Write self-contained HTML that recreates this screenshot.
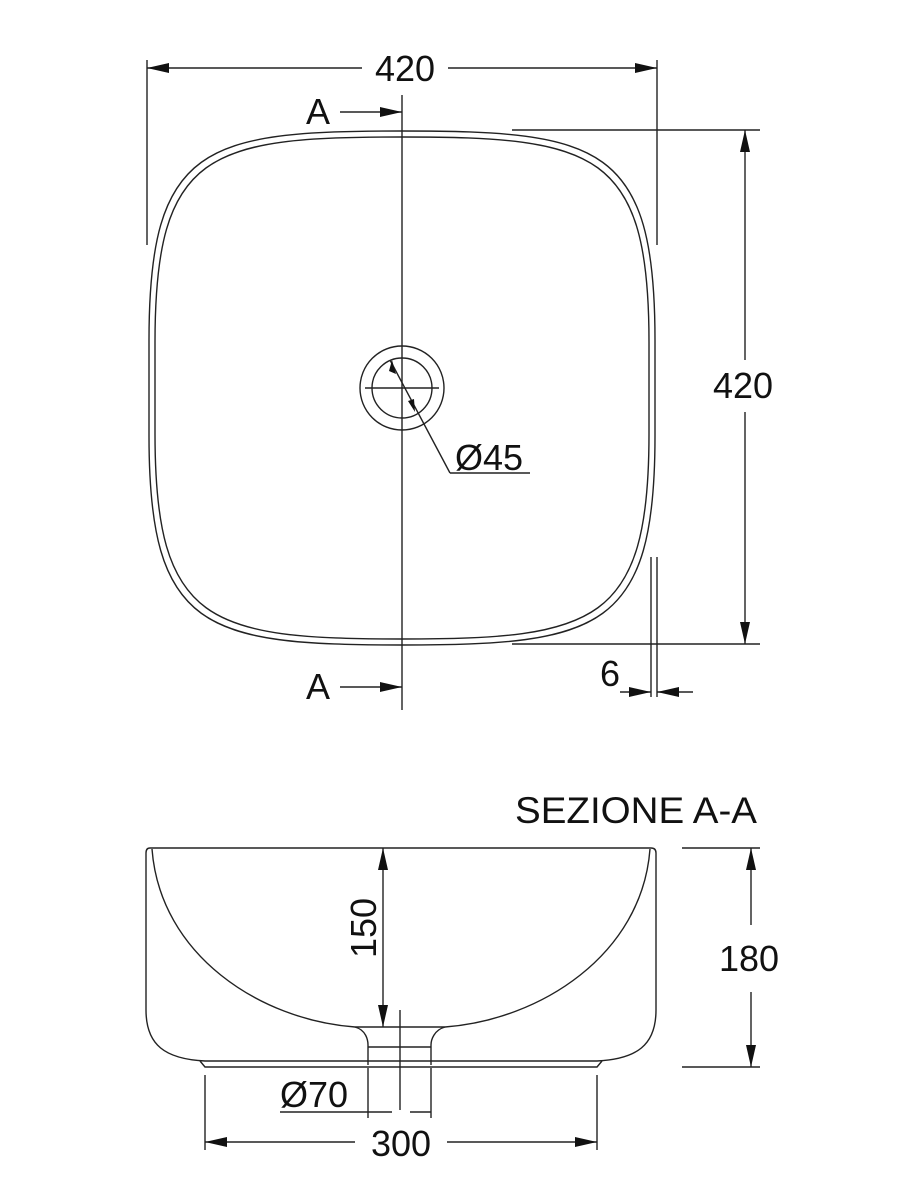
<!DOCTYPE html>
<html><head><meta charset="utf-8"><style>
html,body{margin:0;padding:0;background:#fff;}
svg{display:block;}
text{font-family:"Liberation Sans",Arial,sans-serif;fill:#111;}
</style></head><body>
<svg width="900" height="1197" viewBox="0 0 900 1197" xmlns="http://www.w3.org/2000/svg">
<defs>
<marker id="ar" viewBox="0 0 22 10" refX="22" refY="5" markerWidth="22" markerHeight="10" markerUnits="userSpaceOnUse" orient="auto"><path d="M0,0 L22,5 L0,10 Z" fill="#111"/></marker>
</defs>
<g stroke="#222" fill="none" stroke-width="1.4">
<path d="M402 131 C600 131 655 145 655 340 L655 436 C655 630 600 645 402 645 C204 645 149 630 149 436 L149 340 C149 145 204 131 402 131 Z"/>
<path d="M402 137 C595 137 649 151 649 342 L649 434 C649 624 595 639 402 639 C209 639 155 624 155 434 L155 342 C155 151 209 137 402 137 Z"/>
<line x1="147" y1="60" x2="147" y2="245"/>
<line x1="657" y1="60" x2="657" y2="245"/>
<line x1="512" y1="130" x2="760" y2="130"/>
<line x1="512" y1="644" x2="760" y2="644"/>
<line x1="402" y1="95" x2="402" y2="710"/>
<line x1="651" y1="557" x2="651" y2="697"/>
<line x1="657" y1="557" x2="657" y2="697"/>
<circle cx="402" cy="388" r="42"/>
<circle cx="402" cy="388" r="30"/>
<line x1="365" y1="388" x2="439" y2="388"/>
<line x1="450" y1="473" x2="530" y2="473"/>
<line x1="390" y1="360" x2="450" y2="473"/>
<path d="M150 848 L651 848 Q656 848 656 853 L656 1010 C656 1045 637 1059 597 1061 L205 1061 C165 1059 146 1045 146 1010 L146 853 Q146 848 150 848"/>
<path d="M200 1061 L205 1067 L597 1067 L602 1061"/>
<path d="M152 849 C160 955 260 1020 355 1027 L445 1027 C540 1020 642 955 650 849"/>
<path d="M355 1027 C366 1030 368 1040 368 1045 L368 1065 M445 1027 C434 1030 431 1040 431 1045 L431 1065 M368 1047 L431 1047"/>
<line x1="400" y1="1010" x2="400" y2="1110"/>
<line x1="205" y1="1075" x2="205" y2="1150"/>
<line x1="597" y1="1075" x2="597" y2="1150"/>
<line x1="368" y1="1068" x2="368" y2="1118"/>
<line x1="431" y1="1068" x2="431" y2="1118"/>
<line x1="280" y1="1112" x2="368" y2="1112"/>
<line x1="682" y1="848" x2="760" y2="848"/>
<line x1="682" y1="1067" x2="760" y2="1067"/>
</g>
<g stroke="#222" stroke-width="1.4" fill="none">
<line x1="362" y1="68" x2="147" y2="68" marker-end="url(#ar)"/>
<line x1="448" y1="68" x2="657" y2="68" marker-end="url(#ar)"/>
<line x1="340" y1="112" x2="402" y2="112" marker-end="url(#ar)"/>
<line x1="340" y1="687" x2="402" y2="687" marker-end="url(#ar)"/>
<line x1="745" y1="360" x2="745" y2="130" marker-end="url(#ar)"/>
<line x1="745" y1="412" x2="745" y2="644" marker-end="url(#ar)"/>
<line x1="620" y1="692" x2="651" y2="692" marker-end="url(#ar)"/>
<line x1="693" y1="692" x2="657" y2="692" marker-end="url(#ar)"/>
<line x1="383" y1="938" x2="383" y2="848" marker-end="url(#ar)"/>
<line x1="383" y1="938" x2="383" y2="1027" marker-end="url(#ar)"/>
<line x1="751" y1="925" x2="751" y2="848" marker-end="url(#ar)"/>
<line x1="751" y1="992" x2="751" y2="1067" marker-end="url(#ar)"/>
<line x1="355" y1="1142" x2="205" y2="1142" marker-end="url(#ar)"/>
<line x1="447" y1="1142" x2="597" y2="1142" marker-end="url(#ar)"/>
<line x1="392" y1="1112" x2="368" y2="1112"/>
<line x1="410" y1="1112" x2="431" y2="1112"/>
</g>
<path d="M392 360 L396 374 L389 371 Z M415 412 L408 401 L414 399 Z" fill="#111"/>
<g font-size="36">
<text x="405" y="81" text-anchor="middle">420</text>
<text x="306" y="124">A</text>
<text x="306" y="699">A</text>
<text x="743" y="398" text-anchor="middle">420</text>
<text x="455" y="470">Ø45</text>
<text x="600" y="686">6</text>
<text x="749" y="971" text-anchor="middle">180</text>
<text x="280" y="1107">Ø70</text>
<text x="401" y="1156" text-anchor="middle">300</text>
<text transform="translate(376,928) rotate(-90)" text-anchor="middle">150</text>
</g>
<text x="515" y="823" font-size="37" textLength="242" lengthAdjust="spacingAndGlyphs">SEZIONE A-A</text>
</svg>
</body></html>
